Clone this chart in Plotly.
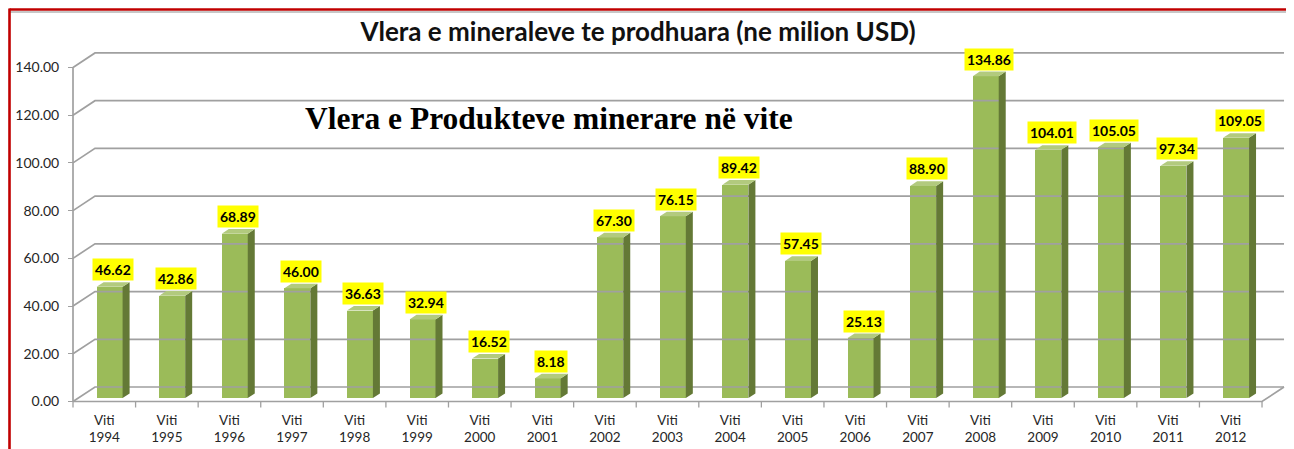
import plotly.graph_objects as go

# ---------------- data ----------------
years = [1994, 1995, 1996, 1997, 1998, 1999, 2000, 2001, 2002, 2003,
         2004, 2005, 2006, 2007, 2008, 2009, 2010, 2011, 2012]
values = [46.62, 42.86, 68.89, 46.00, 36.63, 32.94, 16.52, 8.18, 67.30, 76.15,
          89.42, 57.45, 25.13, 88.90, 134.86, 104.01, 105.05, 97.34, 109.05]
tick_text = [f"Viti<br>{y}" for y in years]
y_ticks = [0, 20, 40, 60, 80, 100, 120, 140]
title_text = "Vlera e mineraleve te prodhuara (ne milion USD)"
overlay_text = "Vlera e Produkteve minerare në vite"

# ---------------- geometry (targets in page pixels) ----------------
W, H = 1294, 449
PAGE_OFF = 8                     # page body margin offset
ML, MR, MT, MB = 60, 4, 35, 47
PW, PH = W - ML - MR, H - MT - MB
PLOT_LEFT = ML + PAGE_OFF
PLOT_BOTTOM = H - MB + PAGE_OFF
AXIS_PX = 73            # front vertical axis pixel x
ZERO_PX = 401.5         # front zero pixel y
CAT_PX = 62.58          # pixels per category
UNIT_PX = 2.386         # pixels per value unit

x0 = -0.5 - (AXIS_PX - PLOT_LEFT) / CAT_PX
x1 = x0 + PW / CAT_PX
y0 = -(PLOT_BOTTOM - ZERO_PX) / UNIT_PX
y1 = y0 + PH / UNIT_PX

def ux(px):
    return px / CAT_PX

def uy(px):
    return px / UNIT_PX

def paper_x(px):
    return (px - PLOT_LEFT) / PW

def paper_y(py):
    return (PLOT_BOTTOM - py) / PH

n = len(values)
xl_axis = -0.5
xr_floor = n - 0.5
DDX, DDY = 22.0, 14.5           # depth offset of back wall (px)
f0 = 3.5 / DDY                  # bar front depth fraction
bar_dx0 = f0 * DDX
bar_dy0 = f0 * DDY
side_dx = 7.0
side_dy = side_dx * DDY / DDX
BAR_W = 26.0

grid_col = "#a0a0a0"

fig = go.Figure()

# back wall gridlines + left wall diagonals
gx, gy = [], []
for v in y_ticks:
    gx += [xl_axis, xl_axis + ux(DDX), xr_floor + ux(DDX), None]
    gy += [v, v + uy(DDY), v + uy(DDY), None]
fig.add_trace(go.Scatter(x=gx, y=gy, mode="lines", line=dict(color=grid_col, width=1.7),
                         hoverinfo="skip", showlegend=False))
# floor outline (front edge + right edge)
fig.add_trace(go.Scatter(x=[xl_axis, xr_floor, xr_floor + ux(DDX)], y=[0, 0, uy(DDY)],
                         mode="lines", line=dict(color=grid_col, width=1.7),
                         hoverinfo="skip", showlegend=False))
# vertical axis line
fig.add_trace(go.Scatter(x=[xl_axis, xl_axis], y=[0, y_ticks[-1]], mode="lines",
                         line=dict(color=grid_col, width=1.7), hoverinfo="skip", showlegend=False))
# x tick marks at category boundaries
tx, ty = [], []
for i in range(n + 1):
    tx += [i - 0.5, i - 0.5, None]
    ty += [0, -uy(6), None]
fig.add_trace(go.Scatter(x=tx, y=ty, mode="lines", line=dict(color=grid_col, width=1.3),
                         hoverinfo="skip", showlegend=False))

# bar front faces
base_u = uy(bar_dy0)
bar_x = [i + ux(bar_dx0) for i in range(n)]
fig.add_trace(go.Bar(x=bar_x, y=values, base=[base_u] * n, width=ux(BAR_W),
                     marker=dict(color="#9bbb59", line=dict(width=0)),
                     hoverinfo="skip", showlegend=False))

# side faces and top faces
sx, sy, px_, py_ = [], [], [], []
for i, v in enumerate(values):
    xl = bar_x[i] - ux(BAR_W) / 2
    xr = bar_x[i] + ux(BAR_W) / 2
    b = base_u
    t = base_u + v
    sx += [xr, xr + ux(side_dx), xr + ux(side_dx), xr, xr, None]
    sy += [b, b + uy(side_dy), t + uy(side_dy), t, b, None]
    px_ += [xl, xr, xr + ux(side_dx), xl + ux(side_dx), xl, None]
    py_ += [t, t, t + uy(side_dy), t + uy(side_dy), t, None]
fig.add_trace(go.Scatter(x=sx, y=sy, mode="lines", fill="toself", fillcolor="#647936",
                         line=dict(width=0, color="#647936"), hoverinfo="skip", showlegend=False))
fig.add_trace(go.Scatter(x=px_, y=py_, mode="lines", fill="toself", fillcolor="#b2ca7e",
                         line=dict(width=0, color="#b2ca7e"), hoverinfo="skip", showlegend=False))

# data labels
for i, v in enumerate(values):
    fig.add_annotation(x=bar_x[i], y=base_u + v, xref="x", yref="y",
                       text=f"<b>{v:.2f}</b>", showarrow=False,
                       xshift=3.5, yshift=17, yanchor="middle",
                       font=dict(family="Lato", size=14, color="#000000"),
                       bgcolor="#ffff00", borderpad=2)

# overlay caption
fig.add_annotation(x=paper_x(549), y=paper_y(118), xref="paper", yref="paper",
                   text=f"<b>{overlay_text}</b>", showarrow=False,
                   xanchor="center", yanchor="middle",
                   font=dict(family="Liberation Serif", size=31.5, color="#000000"))

# red frame
fig.add_shape(type="line", xref="paper", yref="paper",
              x0=paper_x(10), x1=paper_x(1310), y0=paper_y(12), y1=paper_y(12),
              line=dict(color="#b5b5b5", width=1.5))
fig.add_shape(type="line", xref="paper", yref="paper",
              x0=paper_x(9.5), x1=paper_x(1310), y0=paper_y(9.5), y1=paper_y(9.5),
              line=dict(color="#c00000", width=2.6))
fig.add_shape(type="line", xref="paper", yref="paper",
              x0=paper_x(9.5), x1=paper_x(9.5), y0=paper_y(8.5), y1=paper_y(470),
              line=dict(color="#c00000", width=2.6))

fig.update_layout(
    width=W, height=H,
    margin=dict(l=ML, r=MR, t=MT, b=MB, pad=0),
    paper_bgcolor="white", plot_bgcolor="white",
    title=dict(text=f"<b>{title_text}</b>", xref="container", yref="container",
               x=(638 - PAGE_OFF) / W, y=1 - (32 - PAGE_OFF) / H,
               xanchor="center", yanchor="middle",
               font=dict(family="Lato", size=26, color="#111111")),
    bargap=0,
    xaxis=dict(range=[x0, x1], showgrid=False, zeroline=False, showline=False,
               tickmode="array", tickvals=list(range(n)), ticktext=tick_text,
               ticks="", tickfont=dict(family="Lato", size=13.5, color="#262626")),
    yaxis=dict(range=[y0, y1], showgrid=False, zeroline=False, showline=False,
               anchor="free", position=paper_x(AXIS_PX),
               tickmode="array", tickvals=y_ticks, ticktext=[f"{v:.2f}" for v in y_ticks],
               ticks="outside", ticklen=5, tickcolor=grid_col, tickwidth=1.3,
               ticklabelstandoff=6,
               tickfont=dict(family="Lato", size=14, color="#262626")),
)

fig.write_html("out.html")
